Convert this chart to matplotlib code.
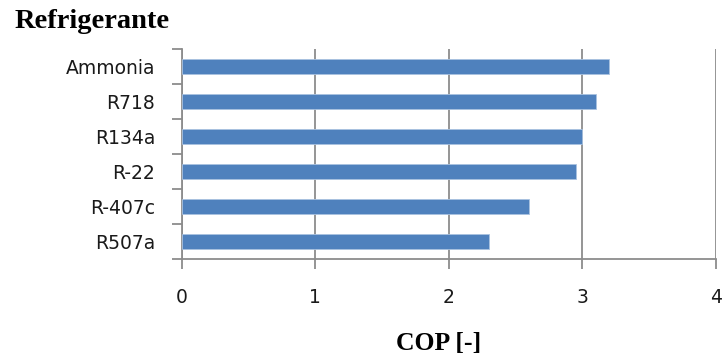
import matplotlib
matplotlib.use("Agg")
import matplotlib.pyplot as plt
import numpy as np

plt.rcParams['font.family'] = ['DejaVu Sans']

# COP values per refrigerant (top to bottom as drawn)
refrigerants = ['Ammonia', 'R718', 'R134a', 'R-22', 'R-407c', 'R507a']
cop = [3.2, 3.1, 3.0, 2.95, 2.6, 2.3]

bar_color = '#4F81BD'
grid_color = '#8C8C8C'

fig = plt.figure(figsize=(7.22, 3.63), dpi=100)
ax = fig.add_axes([0.2514, 0.2865, 0.7403, 0.5785])

y = np.arange(len(refrigerants))
ax.barh(y, cop, height=0.42, color=bar_color, edgecolor='#A9C2E0', linewidth=0.6, zorder=3)

ax.set_xlim(0, 4)
ax.set_ylim(len(refrigerants) - 0.5, -0.5)

# vertical gridlines at each integer
ax.set_xticks(range(0, 5))
ax.grid(axis='x', color=grid_color, linewidth=1.3, zorder=1)
ax.tick_params(axis='x', direction='out', length=7, width=1.3, color=grid_color,
               pad=14, labelsize=13.5, labelcolor='#1a1a1a')

# category labels centred, tick marks at category boundaries
ax.set_yticks(y)
ax.set_yticklabels(refrigerants)
ax.set_yticks(np.arange(-0.5, len(refrigerants)), minor=True)
ax.tick_params(axis='y', which='major', length=0, pad=19, labelsize=13.5, labelcolor='#1a1a1a')
ax.tick_params(axis='y', which='minor', direction='out', length=7, width=1.3, color=grid_color)

for side in ['top', 'right']:
    ax.spines[side].set_visible(False)
for side in ['left', 'bottom']:
    ax.spines[side].set_color(grid_color)
    ax.spines[side].set_linewidth(1.3)

ax.set_xlabel('COP [-]', family='Liberation Serif', fontweight='bold', fontsize=18.5, va='baseline')
ax.xaxis.set_label_coords(0.48, -0.433)

fig.text(15 / 722, 1 - 28 / 363, 'Refrigerante', family='Liberation Serif',
         fontweight='bold', fontsize=20.5, ha='left', va='baseline')

fig.savefig('out.png', dpi=100)
